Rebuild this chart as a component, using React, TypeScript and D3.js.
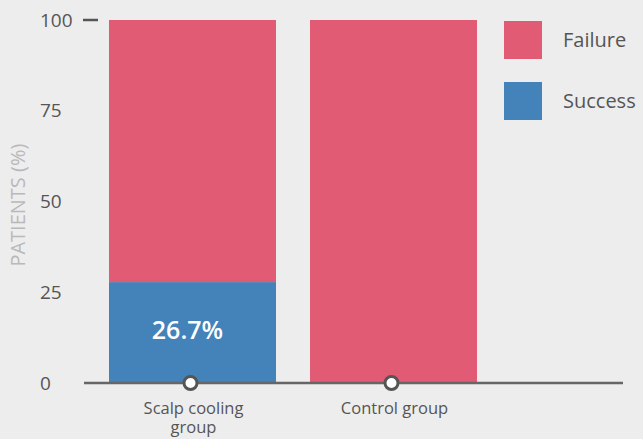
import React from 'react'
import * as d3 from 'd3'

// Chart data
const groups = ['Scalp cooling group', 'Control group']
const groupLines = [['Scalp cooling', 'group'], ['Control group']]
const success = [27.8, 0]
const failure = [72.2, 100]
const barLabels = ['26.7%', '']
const yTicks = [0, 25, 50, 75, 100]
const legendItems = [
  { key: 'failure', label: 'Failure', color: '#e05b73' },
  { key: 'success', label: 'Success', color: '#4383b9' }
]

const W = 643
const H = 439
const FONT = "'Open Sans', Lato, sans-serif"

const App = () => {
  const y = d3.scaleLinear().domain([0, 100]).range([383, 20])
  const x = d3.scaleBand<string>()
    .domain(groups)
    .range([109, 477])
    .paddingInner(34 / 201)
    .paddingOuter(0)

  const stackData = groups.map((g, i) => ({ group: g, success: success[i], failure: failure[i] }))
  const series = d3.stack<any>().keys(['success', 'failure'])(stackData)
  const colorOf = (k: string) => legendItems.find(l => l.key === k)!.color

  return (
    <div style={{ position: 'fixed', inset: 0, background: '#ededed' }}>
      <svg width={W} height={H} style={{ position: 'absolute', left: 0, top: 0 }} fontFamily={FONT}>
        <rect width={W} height={H} fill="#ededed" />

        {/* bars */}
        {series.map(s => (
          <g key={s.key} fill={colorOf(s.key)}>
            {s.map((d, i) => (
              <rect
                key={i}
                x={x(groups[i])}
                y={y(d[1])}
                width={x.bandwidth()}
                height={Math.max(0, y(d[0]) - y(d[1]))}
              />
            ))}
          </g>
        ))}

        {/* value label */}
        {groups.map((g, i) => barLabels[i] ? (
          <text
            key={g}
            x={x(g)! + x.bandwidth() / 2 - 5}
            y={y(success[i] / 2) - 2}
            dy="0.35em"
            textAnchor="middle"
            fill="#fff"
            fontSize={25}
            fontWeight={600}
          >{barLabels[i]}</text>
        ) : null)}

        {/* y ticks */}
        {yTicks.map(t => (
          <text key={t} x={40} y={y(t)} dy="0.35em" fontSize={19} fill="#555">{t}</text>
        ))}
        <line x1={83} x2={98} y1={y(100)} y2={y(100)} stroke="#555" strokeWidth={2.5} />

        {/* y title */}
        <text
          transform={`translate(25, ${y(49)}) rotate(-90)`}
          textAnchor="middle"
          fontSize={20}
          fill="#b9b9b9"
        >PATIENTS (%)</text>

        {/* x axis */}
        <line x1={84} x2={623} y1={y(0)} y2={y(0)} stroke="#666" strokeWidth={2.5} />
        {groups.map((g, i) => (
          <g key={g}>
            <circle cx={x(g)! + x.bandwidth() / 2 - 2} cy={y(0)} r={6.5} fill="#fff" stroke="#555" strokeWidth={3} />
            {groupLines[i].map((ln, j) => (
              <text
                key={j}
                x={x(g)! + x.bandwidth() / 2 + 1}
                y={y(0) + 31 + j * 19}
                textAnchor="middle"
                fontSize={16.5}
                fill="#555"
              >{ln}</text>
            ))}
          </g>
        ))}

        {/* legend */}
        {legendItems.map((l, i) => (
          <g key={l.key} transform={`translate(504, ${21 + i * 61})`}>
            <rect width={38} height={38} fill={l.color} />
            <text x={59} y={19} dy="0.35em" fontSize={20} fill="#555">{l.label}</text>
          </g>
        ))}
      </svg>
    </div>
  )
}

export default App
